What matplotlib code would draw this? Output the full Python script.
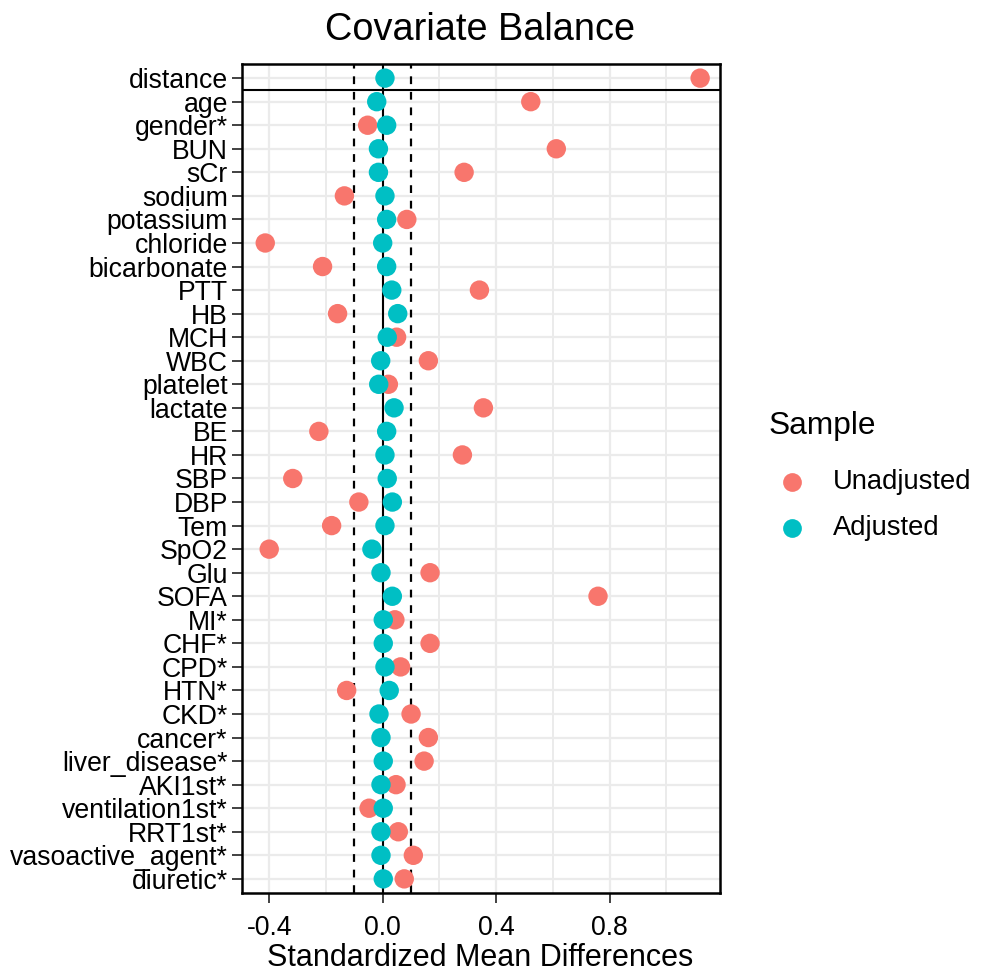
import matplotlib
matplotlib.use('Agg')
import matplotlib.pyplot as plt
import numpy as np
from matplotlib.lines import Line2D

plt.rcParams['font.family'] = ['Liberation Sans', 'DejaVu Sans']

covariates = ['distance', 'age', 'gender*', 'BUN', 'sCr', 'sodium', 'potassium',
              'chloride', 'bicarbonate', 'PTT', 'HB', 'MCH', 'WBC', 'platelet',
              'lactate', 'BE', 'HR', 'SBP', 'DBP', 'Tem', 'SpO2', 'Glu', 'SOFA',
              'MI*', 'CHF*', 'CPD*', 'HTN*', 'CKD*', 'cancer*', 'liver_disease*',
              'AKI1st*', 'ventilation1st*', 'RRT1st*', 'vasoactive_agent*', 'diuretic*']
unadjusted = [1.119, 0.522, -0.053, 0.612, 0.287, -0.135, 0.085,
              -0.414, -0.212, 0.341, -0.159, 0.049, 0.161, 0.020,
              0.355, -0.225, 0.281, -0.317, -0.084, -0.180, -0.400, 0.167, 0.759,
              0.043, 0.167, 0.063, -0.127, 0.100, 0.161, 0.146,
              0.047, -0.048, 0.055, 0.108, 0.076]
adjusted = [0.008, -0.021, 0.014, -0.015, -0.015, 0.008, 0.014,
            0.000, 0.014, 0.032, 0.053, 0.016, -0.007, -0.014,
            0.040, 0.014, 0.008, 0.016, 0.034, 0.008, -0.038, -0.006, 0.034,
            0.002, 0.002, 0.008, 0.023, -0.013, -0.006, 0.002,
            -0.006, 0.002, -0.006, -0.006, 0.002]
sample_labels = ['Unadjusted', 'Adjusted']
x_ticks = [-0.4, 0.0, 0.4, 0.8]
x_tick_labels = ['-0.4', '0.0', '0.4', '0.8']
x_minor = [-0.2, 0.2, 0.6, 1.0]
threshold = 0.1

RED = '#F8766D'
TEAL = '#00BFC4'
W, H = 985, 973

fig = plt.figure(figsize=(W / 100, H / 100), dpi=100)
ax = fig.add_axes([241.7 / W, 1 - 893 / H, (720 - 241.7) / W, (893 - 64) / H])

n = len(covariates)
ypos = np.arange(n)[::-1]

# grid
grid_c = '#EBEBEB'
for xv in x_ticks:
    ax.axvline(xv, color=grid_c, lw=1.6, zorder=0)
for xv in x_minor:
    ax.axvline(xv, color=grid_c, lw=1.4, zorder=0)
for yv in ypos:
    ax.axhline(yv, color=grid_c, lw=1.6, zorder=0)

ax.axvline(0, color='black', lw=1.5, zorder=1)
ax.axvline(-threshold, color='black', lw=1.6, ls=(0, (3.5, 3.5)), zorder=1)
ax.axvline(threshold, color='black', lw=1.6, ls=(0, (3.5, 3.5)), zorder=1)
ax.axhline(n - 1.5, color='black', lw=1.5, zorder=1)

ax.scatter(unadjusted, ypos, s=195, color=RED, edgecolors='none', zorder=3)
ax.scatter(adjusted, ypos, s=195, color=TEAL, edgecolors='none', zorder=4)

ax.set_xlim(-0.497, 1.189)
ax.set_ylim(-0.6, n - 0.4)
ax.set_xticks(x_ticks)
ax.set_xticklabels(x_tick_labels)
ax.set_yticks(ypos)
ax.set_yticklabels(covariates)
ax.tick_params(axis='both', length=7, width=1.3, color='#333333', labelsize=19.2,
               labelcolor='black')
ax.tick_params(axis='x', pad=9)
ax.tick_params(axis='y', pad=3)
for sp in ax.spines.values():
    sp.set_linewidth(1.8)
    sp.set_color('black')

fig.text(480 / W, 1 - 30 / H, 'Covariate Balance', ha='center', va='center', size=27.3)
fig.text(480 / W, 1 - 958 / H, 'Standardized Mean Differences', ha='center', va='center', size=22)

# legend drawn in figure coordinates
fig.text(769 / W, 1 - 426 / H, 'Sample', ha='left', va='center', size=22.8)
leg_y = [481.7, 528.3]
for lab, col, yy in zip(sample_labels, [RED, TEAL], leg_y):
    fig.add_artist(Line2D([791.7 / W], [1 - yy / H], marker='o', ls='none', color=col,
                          markersize=13.5, markeredgewidth=0, transform=fig.transFigure))
    fig.text(832.7 / W, 1 - yy / H, lab, ha='left', va='center', size=19.7)

fig.savefig('out.png', dpi=100)
